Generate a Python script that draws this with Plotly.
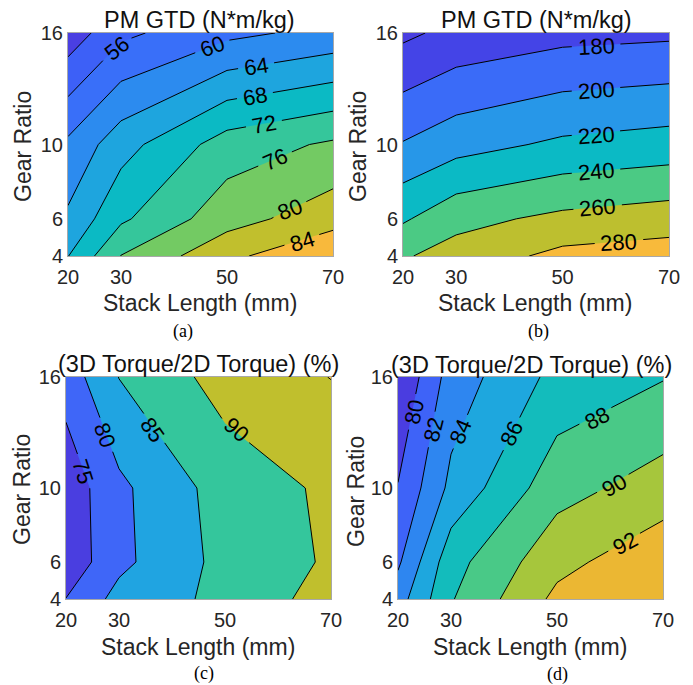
import numpy as np
import plotly.graph_objects as go

# Sweep grid: stack length (mm) and gear ratio
stack_length = [20, 30, 50, 70]
gear_ratio = [4, 6, 10, 16]

# PM gear torque density, design (a) — rows follow gear_ratio, columns stack_length
gtd_a = [
    [67.9, 76.1, 83.0, 87.8],
    [64.7, 71.3, 78.4, 82.3],
    [60.8, 66.4, 73.9, 76.6],
    [49.6, 55.1, 59.0, 61.2],
]
# PM gear torque density, design (b)
gtd_b = [
    [258.0, 268.0, 285.5, 289.7],
    [237.4, 253.9, 264.7, 270.3],
    [201.3, 212.3, 223.7, 228.6],
    [155.9, 165.7, 173.6, 176.1],
]
# 3D/2D torque ratio (%), design (c)
ratio_c = [
    [75.1, 81.7, 86.3, 92.1],
    [71.5, 78.75, 86.56, 90.6],
    [71.8, 78.93, 87.19, 90.9],
    [77.2, 85.1, 92.0, 95.1],
]
# 3D/2D torque ratio (%), design (d)
ratio_d = [
    [83.1, 87.85, 92.48, 93.8],
    [81.68, 87.26, 91.4, 93.4],
    [80.1, 84.5, 89.25, 90.91],
    [78.1, 82.86, 86.6, 87.89],
]

# contour levels (start, end, step) per panel
levels = {
    "a": (52, 84, 4),
    "b": (160, 280, 20),
    "c": (75, 95, 5),
    "d": (80, 92, 2),
}
# fill colours from the lowest band to the highest band
band_colors = {
    "a": ["#4a3fe2", "#3d60f7", "#396ff9", "#2c8bef", "#1ea5de",
          "#0bbac4", "#35c69b", "#73ca63", "#c1bf2d", "#f8b93c"],
    "b": ["#4a3ee0", "#4444e7", "#3a6bf8", "#2797e8", "#0bbac5",
          "#4bca84", "#bdbf2f", "#f8ba3b"],
    "c": ["#4a3ee0", "#3f66f8", "#20a4e1", "#34c69c", "#c0bf2d", "#f9c83a"],
    "d": ["#4a3de0", "#3e63f8", "#2e86f0", "#1ea7de", "#13bcbc",
          "#49c987", "#a6c63c", "#ebb733"],
}

# contour-label placement: level, x, y (data units), text angle
label_spots = {
    "a": [(56, 29.2, 15.15, -38), (60, 47.2, 15.3, -21), (64, 55.5, 14.22, -9),
          (68, 55.3, 12.58, -10), (72, 57.0, 11.08, -10), (76, 59.1, 9.2, -24),
          (80, 61.9, 6.48, -21), (84, 64.2, 4.8, -17)],
    "b": [(180, 56.3, 15.3, -3), (200, 56.3, 12.88, -4), (220, 56.3, 10.5, -4),
          (240, 56.3, 8.52, -5), (260, 56.6, 6.6, -5), (280, 60.6, 4.75, -3)],
    "c": [(75, 23.2, 10.9, 72), (80, 27.4, 12.86, 70), (85, 36.2, 13.14, 55),
          (90, 52.1, 13.14, 42)],
    "d": [(80, 23.0, 14.1, -78), (82, 26.8, 13.14, -76), (84, 31.9, 13.03, -67),
          (86, 41.5, 12.92, -64), (88, 57.5, 13.75, -27), (90, 60.75, 10.15, -29),
          (92, 62.8, 7.0, -28)],
}

panels = [
    ("a", gtd_a, "PM GTD (N*m/kg)", "(a)"),
    ("b", gtd_b, "PM GTD (N*m/kg)", "(b)"),
    ("c", ratio_c, "(3D Torque/2D Torque) (%)", "(c)"),
    ("d", ratio_d, "(3D Torque/2D Torque) (%)", "(d)"),
]

W, H = 693, 685
# plot-area boxes in pixels: left, right, top, bottom
boxes = {
    "a": (68, 333, 33, 256),
    "b": (403, 669, 33, 256),
    "c": (66, 331, 377, 599),
    "d": (398, 663, 377, 599),
}
title_pos = {"a": (200, 20), "b": (536, 20), "c": (198, 364), "d": (531, 365)}
xlabel_pos = {"a": (200, 303), "b": (535, 303), "c": (198, 647), "d": (530, 647)}
ylabel_pos = {"a": (23, 147), "b": (358, 147), "c": (22, 490), "d": (356, 492)}
caption_pos = {"a": (183, 331), "b": (538, 331), "c": (204, 673), "d": (557, 674)}

SANS = "Liberation Sans, Arial, sans-serif"
SERIF = "Liberation Serif, Times New Roman, serif"
LABEL_SIZE = 22
XR, YR = (20, 70), (4, 16)


def paper_note(text, px, py, font, angle=0):
    return dict(text=text, x=px / W, y=1 - py / H, xref="paper", yref="paper",
                xanchor="center", yanchor="middle", textangle=angle,
                showarrow=False, font=font)


def iso_segments(xs, ys, z, level):
    """Marching squares with linear edge interpolation (same rule as the filled contour)."""
    z = np.asarray(z, float)
    segs = []
    for j in range(len(ys) - 1):
        for i in range(len(xs) - 1):
            corners = [(xs[i], ys[j], z[j, i]), (xs[i + 1], ys[j], z[j, i + 1]),
                       (xs[i + 1], ys[j + 1], z[j + 1, i + 1]), (xs[i], ys[j + 1], z[j + 1, i])]
            pts = []
            for k in range(4):
                (xa, ya, za), (xb, yb, zb) = corners[k], corners[(k + 1) % 4]
                if (za - level) * (zb - level) < 0:
                    t = (level - za) / (zb - za)
                    pts.append((xa + t * (xb - xa), ya + t * (yb - ya)))
            if len(pts) == 2:
                segs.append(pts)
            elif len(pts) == 4:
                centre = np.mean([c[2] for c in corners])
                if (centre - level) * (corners[0][2] - level) > 0:
                    segs += [[pts[0], pts[1]], [pts[2], pts[3]]]
                else:
                    segs += [[pts[0], pts[3]], [pts[1], pts[2]]]
    return segs


def cut_gaps(seg, holes, to_px, to_data):
    """Remove the parts of a segment that run under a label (pixel-space circles)."""
    p0, p1 = np.array(to_px(*seg[0])), np.array(to_px(*seg[1]))
    d = p1 - p0
    pieces = [(0.0, 1.0)]
    for c, rad in holes:
        a = d @ d
        if a == 0:
            continue
        f = p0 - c
        bq = 2 * f @ d
        cq = f @ f - rad * rad
        disc = bq * bq - 4 * a * cq
        if disc <= 0:
            continue
        t1 = (-bq - np.sqrt(disc)) / (2 * a)
        t2 = (-bq + np.sqrt(disc)) / (2 * a)
        nxt = []
        for s, e in pieces:
            if t2 <= s or t1 >= e:
                nxt.append((s, e))
                continue
            if t1 > s:
                nxt.append((s, t1))
            if t2 < e:
                nxt.append((t2, e))
        pieces = nxt
    out = []
    for s, e in pieces:
        out.append((to_data(*(p0 + s * d)), to_data(*(p0 + e * d))))
    return out


fig = go.Figure()
annotations = []

for i, (key, z, title, cap) in enumerate(panels, start=1):
    start, end, step = levels[key]
    cols = band_colors[key]
    n = len(cols) - 1
    scale = [[k / n, c] for k, c in enumerate(cols)]
    sfx = "" if i == 1 else str(i)
    l, r, t, b = boxes[key]

    # filled bands
    fig.add_trace(go.Contour(
        x=stack_length, y=gear_ratio, z=z,
        autocontour=False,
        contours=dict(start=start, end=end, size=step, coloring="fill", showlabels=False),
        colorscale=scale, showscale=False,
        line=dict(width=0, smoothing=0),
        xaxis="x" + sfx, yaxis="y" + sfx,
        hoverinfo="skip",
    ))

    def to_px(x, y, l=l, r=r, t=t, b=b):
        return (l + (x - XR[0]) / (XR[1] - XR[0]) * (r - l),
                b - (y - YR[0]) / (YR[1] - YR[0]) * (b - t))

    def to_data(px, py, l=l, r=r, t=t, b=b):
        return (XR[0] + (px - l) / (r - l) * (XR[1] - XR[0]),
                YR[0] + (b - py) / (b - t) * (YR[1] - YR[0]))

    # iso-lines, broken where their labels sit
    lx_all, ly_all = [], []
    for lev in np.arange(start, end + step / 2, step):
        holes = [(np.array(to_px(sx, sy)), len(str(lv)) * 0.556 * LABEL_SIZE / 2 + 6)
                 for lv, sx, sy, _ in label_spots[key] if lv == lev]
        for seg in iso_segments(stack_length, gear_ratio, z, lev):
            for (xa, ya), (xb, yb) in cut_gaps(seg, holes, to_px, to_data):
                lx_all += [xa, xb, None]
                ly_all += [ya, yb, None]
    fig.add_trace(go.Scatter(
        x=lx_all, y=ly_all, mode="lines",
        line=dict(color="black", width=1),
        xaxis="x" + sfx, yaxis="y" + sfx,
        hoverinfo="skip", showlegend=False,
    ))

    axis_common = dict(showline=True, mirror=True, linecolor="#a8a8a8", linewidth=1,
                       showgrid=False, zeroline=False, ticks="",
                       tickfont=dict(family=SANS, size=20, color="#262626"))
    fig.update_layout(**{
        "xaxis" + sfx: dict(domain=[l / W, r / W], range=list(XR), ticklabelstandoff=3,
                            tickvals=stack_length, anchor="y" + sfx, **axis_common),
        "yaxis" + sfx: dict(domain=[1 - b / H, 1 - t / H], range=list(YR),
                            tickvals=gear_ratio, anchor="x" + sfx, **axis_common),
    })

    # contour labels, rotated along their lines
    for lev, sx, sy, ang in label_spots[key]:
        annotations.append(dict(text=str(lev), x=sx, y=sy, xref="x" + sfx, yref="y" + sfx,
                                xanchor="center", yanchor="middle", textangle=ang,
                                showarrow=False,
                                font=dict(family=SANS, size=LABEL_SIZE, color="black")))

    annotations.append(paper_note(title, *title_pos[key],
                                  dict(family=SANS, size=23.5, color="#111111")))
    annotations.append(paper_note("Stack Length (mm)", *xlabel_pos[key],
                                  dict(family=SANS, size=23, color="#262626")))
    annotations.append(paper_note("Gear Ratio", *ylabel_pos[key],
                                  dict(family=SANS, size=23, color="#262626"), angle=-90))
    annotations.append(paper_note(cap, *caption_pos[key],
                                  dict(family=SERIF, size=18, color="black")))

fig.update_layout(
    width=W, height=H,
    margin=dict(l=0, r=0, t=0, b=0, autoexpand=False),
    paper_bgcolor="white", plot_bgcolor="white",
    showlegend=False,
    annotations=annotations,
)

fig.write_html("out.html")
